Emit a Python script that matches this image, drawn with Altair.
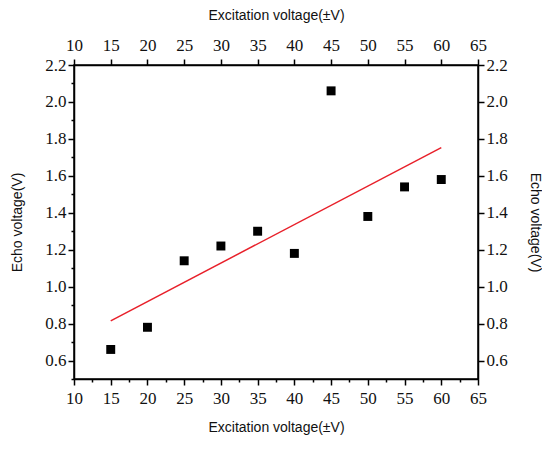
import altair as alt
import pandas as pd

excitation = [15, 20, 25, 30, 35, 40, 45, 50, 55, 60]
echo = [0.66, 0.78, 1.14, 1.22, 1.30, 1.18, 2.06, 1.38, 1.54, 1.58]

x_domain = [10, 65]
y_domain = [0.5, 2.2]
x_major = [10 + 5 * i for i in range(12)]
x_minor = [12.5 + 5 * i for i in range(11)]
y_major = [round(0.6 + 0.2 * i, 1) for i in range(9)]
y_minor = [round(0.5 + 0.2 * i, 1) for i in range(9)]

df = pd.DataFrame({"x": excitation, "y": echo})

SERIF = "Liberation Serif"
SANS = "Liberation Sans"

xs = alt.Scale(domain=x_domain, nice=False, zero=False)
ys = alt.Scale(domain=y_domain, nice=False, zero=False)

x_axis = alt.Axis(
    values=x_major, format="d", tickSize=6, labelPadding=5,
    labelFont=SERIF, labelFontSize=17,
    title="Excitation voltage(±V)", titlePadding=14, titleFont=SANS,
)
y_axis = alt.Axis(
    values=y_major, format=".1f", tickSize=6, labelPadding=2,
    labelFont=SERIF, labelFontSize=17,
    title="Echo voltage(V)", titlePadding=20, titleFont=SANS,
)
enc_x = alt.X("x:Q", scale=xs, axis=x_axis)
enc_y = alt.Y("y:Q", scale=ys, axis=y_axis)

fit = alt.Chart(df).transform_regression("x", "y").mark_line(
    color="#e8202a", strokeWidth=1.5
).encode(x=enc_x, y=enc_y)

points = alt.Chart(df).mark_square(color="black", size=80, opacity=1).encode(
    x=enc_x, y=enc_y,
)

minor = alt.Chart(df).mark_point(opacity=0).encode(
    x=alt.X("x:Q", scale=xs, axis=alt.Axis(
        orient="bottom", values=x_minor, tickSize=3, labels=False,
        domain=False, title=None)),
    y=alt.Y("y:Q", scale=ys, axis=alt.Axis(
        orient="left", values=y_minor, tickSize=3, labels=False,
        domain=False, title=None)),
)

chart = alt.layer(fit, points, minor).resolve_axis(
    x="independent", y="independent"
).properties(
    width=534, height=438,
    background="white",
    autosize=alt.AutoSizeParams(type="fit", contains="padding"),
    padding={"left": 2, "top": 0, "right": 0, "bottom": 12},
).configure_view(
    stroke="black", strokeWidth=1.5
).configure_axis(
    tickColor="black", tickWidth=1.5, domainColor="black", domainWidth=1.5,
    labelColor="#111", labelOverlap=False, labelBound=False, labelFlush=False,
    grid=False, titleFontSize=14, titleFontWeight="normal", titleColor="#111",
)

chart.save("out.html", embed_options={"renderer": "svg", "actions": False})
